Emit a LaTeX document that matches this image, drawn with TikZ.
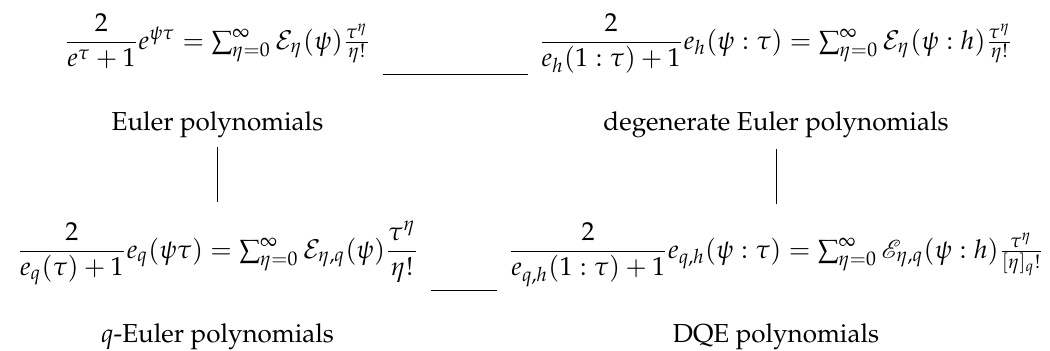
\documentclass[tikz,border=0pt]{standalone}
\usepackage[T1]{fontenc}
\usepackage{amsmath}
\usepackage{mathpazo}
\usepackage{mathrsfs}
\usetikzlibrary{calc}
\tikzset{
  formula/.style={anchor=base, inner sep=0pt, outer sep=0pt},
  caption/.style={anchor=base, inner sep=0pt, outer sep=0pt},
  conn/.style={draw=black, line width=0.4pt}
}
\begin{document}
\begin{tikzpicture}[x=0.3846pt,y=-0.3846pt]
\useasboundingbox (0,0) rectangle (1050,350);
\node[formula] (f1) at (217.5,49) {$\dfrac{2}{e^{\tau}+1}e^{\psi\tau}=\sum_{\eta=0}^{\infty}\mathcal{E}_{\eta}(\psi)\frac{\tau^{\eta}}{\eta!}$};
\node[formula] (f2) at (776,49) {$\dfrac{2}{e_h(1:\tau)+1}e_h(\psi:\tau)=\sum_{\eta=0}^{\infty}\mathcal{E}_{\eta}(\psi:h)\frac{\tau^{\eta}}{\eta!}$};
\node[caption] (l1) at (217.5,130) {Euler polynomials};
\node[caption] (l2) at (776,130) {degenerate Euler polynomials};
\node[formula] (f3) at (218,258) {$\dfrac{2}{e_q(\tau)+1}e_q(\psi\tau)=\sum_{\eta=0}^{\infty}\mathcal{E}_{\eta,q}(\psi)\dfrac{\tau^{\eta}}{\eta!}$};
\node[formula] (f4) at (776,258) {$\dfrac{2}{e_{q,h}(1:\tau)+1}e_{q,h}(\psi:\tau)=\sum_{\eta=0}^{\infty}\mathscr{E}_{\eta,q}(\psi:h)\frac{\tau^{\eta}}{[\eta]_q!}$};
\node[caption] (l3) at (217.5,342) {$q$-Euler polynomials};
\node[caption] (l4) at (776,342) {DQE polynomials};
% connectors
\draw[conn] ($(f1.south east)+(12,5)$) -- ($(f1.south east -| f2.west)+(-11,5)$);
\draw[conn] ($(f3.south east)+(12,5)$) -- ($(f3.south east -| f4.west)+(-11,5)$);
\draw[conn] ($(l1.south)+(0,10)$) -- ($(l1.south |- f3.north)+(0,-19)$);
\draw[conn] ($(l2.south)+(0.5,12)$) -- ($(l2.south |- f4.north)+(0.5,-19)$);
\end{tikzpicture}
\end{document}
